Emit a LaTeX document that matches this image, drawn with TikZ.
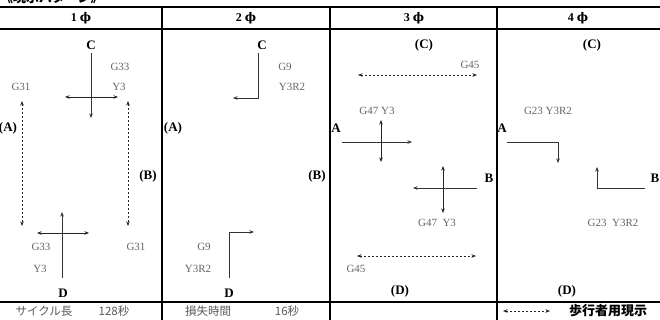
\documentclass[tikz,border=0pt]{standalone}
\usepackage{fontspec}
\usetikzlibrary{arrows.meta}
\setmainfont{Liberation Serif}
\newfontfamily\jp{Noto Sans CJK JP}
\newfontfamily\dv{DejaVu Serif}
\begin{document}
\begin{tikzpicture}[x=1pt, y=-1pt, >={Stealth[length=4.5pt,width=3.5pt]},
  lab/.style={text=black!60, inner sep=0pt, font=\fontsize{11}{12}\selectfont},
  dir/.style={inner sep=0pt, font=\fontsize{13}{14}\selectfont\bfseries},
  hd/.style={inner sep=0pt, font=\fontsize{12}{13}\selectfont\bfseries},
  ft/.style={text=black!65, inner sep=0pt, font=\fontsize{11.5}{13}\selectfont\jp},
  arr/.style={->, black!80, semithick},
  both/.style={<->, black!85, semithick},
  ped/.style={<->, dash pattern=on 2pt off 2pt, black!85, semithick},
  rule/.style={line width=1.6pt}]
\useasboundingbox (0,0) rectangle (660,320);

% table
\draw[rule](0,7)--(660,7);
\draw[rule](0,29)--(660,29);
\draw[rule](0,302)--(660,302);
\foreach \x in {162,330,497} \draw[rule](\x,7)--(\x,320);

\node(title) at (0,3)[anchor=base west, inner sep=0pt, font=\fontsize{13}{14}\selectfont\jp\bfseries]{《現示パターン》};

\node(H1) at (81,18)[hd]{1 {\dv ϕ}};
\node(H2) at (246,18)[hd]{2 {\dv ϕ}};
\node(H3) at (414,18)[hd]{3 {\dv ϕ}};
\node(H4) at (578,18)[hd]{4 {\dv ϕ}};

% 1 phi
\node(C1) at (91,45)[dir]{C};
\node(A1) at (8,128)[dir]{(A)};
\node(B1) at (148,176)[dir]{(B)};
\node(D1) at (63,293)[dir]{D};
\node(g33a) at (120,67)[lab]{G33};
\node(y3a) at (119,87)[lab]{Y3};
\node(g31a) at (21,87)[lab]{G31};
\node(g33b) at (41,247)[lab]{G33};
\node(y3b) at (40,269)[lab]{Y3};
\node(g31b) at (136,247)[lab]{G31};
\coordinate(c1s) at (91,53);
\coordinate(c1e) at (91,118);
\coordinate(h1w) at (65,97);
\coordinate(h1e) at (118,97);
\coordinate(p1n) at (22,101);
\coordinate(p1s) at (22,226);
\coordinate(q1n) at (128,101);
\coordinate(q1s) at (128,226);
\coordinate(d1s) at (62,278);
\coordinate(d1e) at (62,212);
\coordinate(k1w) at (37,233);
\coordinate(k1e) at (89,233);
\draw[arr](c1s)--(c1e);
\draw[both](h1w)--(h1e);
\draw[ped](p1n)--(p1s);
\draw[ped](q1n)--(q1s);
\draw[arr](d1s)--(d1e);
\draw[both](k1w)--(k1e);
\node(cyc) at (44,311)[ft]{サイクル長};
\node(cycv) at (114,311)[ft]{128秒};

% 2 phi
\node(C2) at (262,45)[dir]{C};
\node(A2) at (173,128)[dir]{(A)};
\node(B2) at (317,176)[dir]{(B)};
\node(D2) at (229,293)[dir]{D};
\node(g9a) at (285,67)[lab]{G9};
\node(y3r2a) at (292,87)[lab]{Y3R2};
\node(g9b) at (204,247)[lab]{G9};
\node(y3r2b) at (198,269)[lab]{Y3R2};
\coordinate(c2s) at (258,53);
\coordinate(c2e) at (233,98);
\coordinate(d2s) at (229,278);
\coordinate(d2e) at (254,232);
\draw[arr](c2s)|-(c2e);
\draw[arr](d2s)|-(d2e);
\node(lost) at (208,311)[ft]{損失時間};
\node(lostv) at (287,311)[ft]{16秒};

% 3 phi
\node(C3) at (424,45)[dir]{(C)};
\node(A3) at (336,128)[dir]{A};
\node(B3) at (489,178)[dir]{B};
\node(D3) at (400,291)[dir]{(D)};
\node(g45a) at (470,65)[lab]{G45};
\node(g47a) at (377,111)[lab]{G47 Y3};
\node(g47b) at (437,223)[lab]{G47\ \ Y3};
\node(g45b) at (356,269)[lab]{G45};
\coordinate(p3w) at (358,75);
\coordinate(p3e) at (477,75);
\coordinate(a3s) at (342,142);
\coordinate(a3e) at (412,142);
\coordinate(v3n) at (381,120);
\coordinate(v3s) at (381,162);
\coordinate(w3n) at (443,166);
\coordinate(w3s) at (443,213);
\coordinate(b3s) at (477,188);
\coordinate(b3e) at (413,188);
\coordinate(q3w) at (357,256);
\coordinate(q3e) at (476,256);
\draw[ped](p3w)--(p3e);
\draw[arr](a3s)--(a3e);
\draw[both](v3n)--(v3s);
\draw[both](w3n)--(w3s);
\draw[arr](b3s)--(b3e);
\draw[ped](q3w)--(q3e);

% 4 phi
\node(C4) at (592,45)[dir]{(C)};
\node(A4) at (502,128)[dir]{A};
\node(B4) at (655,178)[dir]{B};
\node(D4) at (567,291)[dir]{(D)};
\node(g23a) at (548,111)[lab]{G23 Y3R2};
\node(g23b) at (613,223)[lab]{G23\ \ Y3R2};
\coordinate(a4s) at (507,142);
\coordinate(a4e) at (558,163);
\coordinate(b4s) at (645,188);
\coordinate(b4e) at (597,167);
\draw[arr](a4s)-|(a4e);
\draw[arr](b4s)-|(b4e);

% legend
\coordinate(lgw) at (503,311);
\coordinate(lge) at (550,311);
\draw[ped](lgw)--(lge);
\node(lgt) at (608,311)[inner sep=0pt, font=\fontsize{13}{14}\selectfont\jp\bfseries]{歩行者用現示};

\end{tikzpicture}
\end{document}
